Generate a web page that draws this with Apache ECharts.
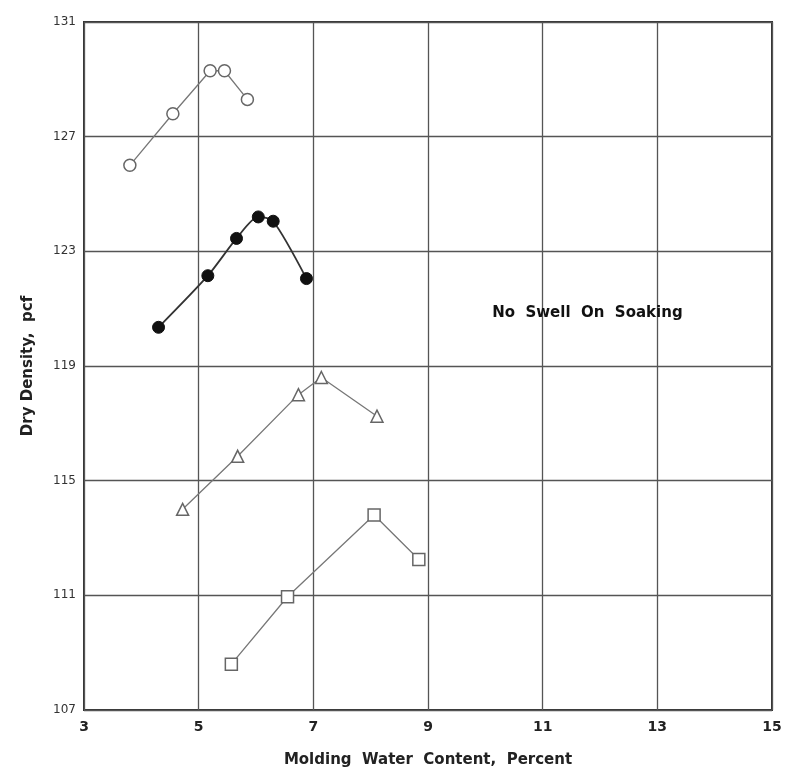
<!DOCTYPE html>
<html><head><meta charset="utf-8">
<script src="https://cdn.jsdelivr.net/npm/echarts@6/dist/echarts.min.js"></script>
<style>html,body{margin:0;padding:0;background:#fff}#c{width:785px;height:775px}</style>
</head><body><div id="c"></div>
<script>
const xTicks = [3, 5, 7, 9, 11, 13, 15];
const yTicks = [107, 111, 115, 119, 123, 127, 131];
const circleX = [3.8, 4.55, 5.2, 5.45, 5.85];
const circleY = [126.0, 127.8, 129.3, 129.3, 128.3];
const dotX = [4.3, 5.16, 5.66, 6.04, 6.3, 6.88];
const dotY = [120.35, 122.15, 123.45, 124.2, 124.05, 122.05];
const triX = [4.72, 5.68, 6.74, 7.14, 8.11];
const triY = [114.0, 115.85, 118.0, 118.6, 117.25];
const sqX = [5.57, 6.55, 8.06, 8.84];
const sqY = [108.6, 110.95, 113.8, 112.25];
const note = 'No  Swell  On  Soaking';
const noteX = 11.78, noteY = 120.86;

const pairs = (xs, ys) => xs.map((x, i) => [x, ys[i]]);
const font = 'DejaVu Sans';
const base = {type: 'line', lineStyle: {color: '#777', width: 1.3}, symbolSize: 12,
  itemStyle: {color: '#fff', borderColor: '#666', borderWidth: 1.5}, z: 3};
const chart = echarts.init(document.getElementById('c'));
chart.setOption({
  animation: false,
  backgroundColor: '#fff',
  grid: {left: 84, top: 22, right: 13, bottom: 65, show: true, borderColor: '#333', borderWidth: 2},
  xAxis: {type: 'value', min: 3, max: 15, interval: 2,
    name: 'Molding  Water  Content,  Percent', nameLocation: 'middle', nameGap: 43,
    nameTextStyle: {fontFamily: font, fontSize: 15, color: '#222', fontWeight: 'bold'},
    axisLine: {show: false}, axisTick: {show: false},
    axisLabel: {fontFamily: font, fontSize: 14, color: '#222', margin: 10, fontWeight: 'bold',
      formatter: v => xTicks.includes(v) ? String(v) : ''},
    splitLine: {lineStyle: {color: '#555', width: 1.3}}},
  yAxis: {type: 'value', min: 107, max: 131, interval: 4,
    name: 'Dry Density,  pcf', nameLocation: 'middle', nameGap: 48, nameRotate: 90,
    nameTextStyle: {fontFamily: font, fontSize: 15, color: '#222', fontWeight: 'bold'},
    axisLine: {show: false}, axisTick: {show: false},
    axisLabel: {fontFamily: font, fontSize: 12, color: '#333', margin: 8,
      formatter: v => yTicks.includes(v) ? String(v) : ''},
    splitLine: {lineStyle: {color: '#555', width: 1.3}}},
  series: [
    Object.assign({}, base, {data: pairs(circleX, circleY), symbol: 'circle'}),
    Object.assign({}, base, {data: pairs(dotX, dotY), symbol: 'circle', smooth: 0.25,
      lineStyle: {color: '#333', width: 1.8},
      itemStyle: {color: '#111', borderColor: '#111', borderWidth: 1}, symbolSize: 12}),
    Object.assign({}, base, {data: pairs(triX, triY), symbol: 'triangle', symbolSize: 12}),
    Object.assign({}, base, {data: pairs(sqX, sqY), symbol: 'rect', symbolSize: 12}),
    {type: 'scatter', data: [[noteX, noteY]], symbolSize: 1, itemStyle: {opacity: 0},
      silent: true,
      label: {show: true, position: 'inside', formatter: note, fontFamily: font, fontSize: 15,
        color: '#111', opacity: 1, fontWeight: 'bold'}}
  ]
});
</script></body></html>
